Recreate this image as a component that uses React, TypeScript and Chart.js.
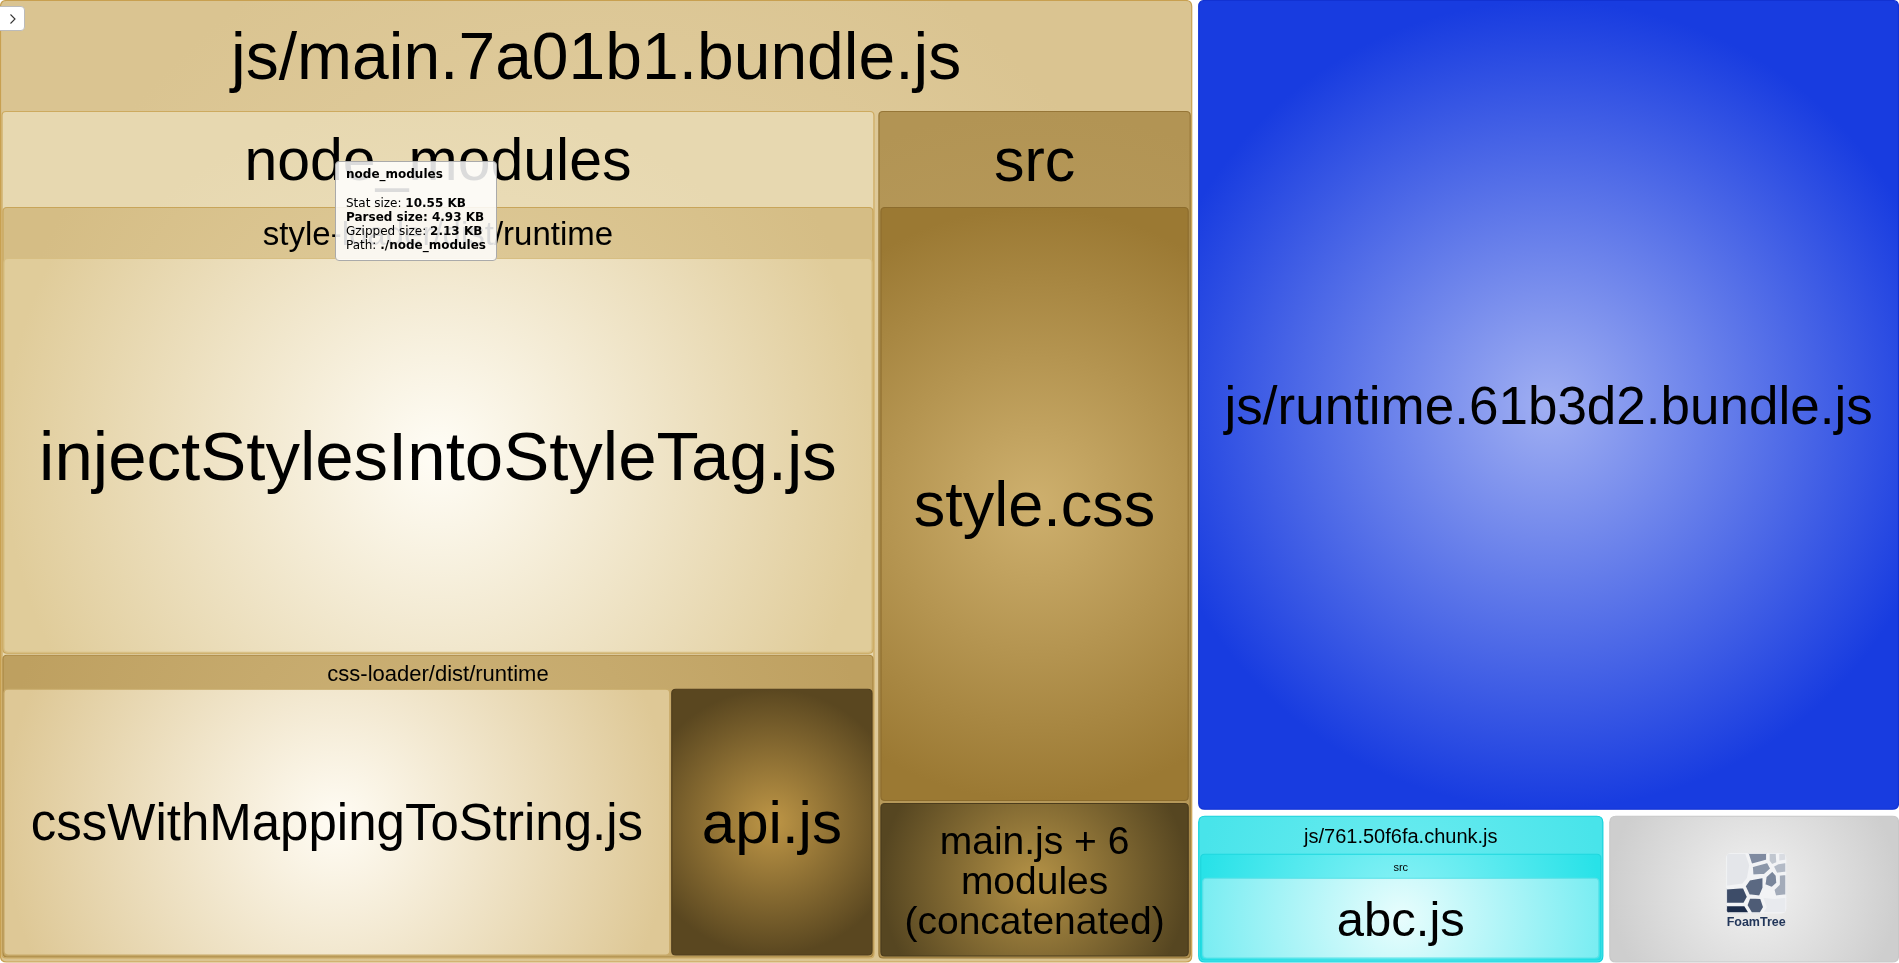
import React, { useEffect, useRef } from "react";
import { Chart, registerables } from "chart.js";
Chart.register(...registerables);

// ---------- data (parsed sizes in KB) ----------
const bundleNames = ["js/main.7a01b1.bundle.js", "js/runtime.61b3d2.bundle.js", "js/761.50f6fa.chunk.js"];
const mainGroupNames = ["node_modules", "src"];
const nodeModulesGroupNames = ["style-loader/dist/runtime", "css-loader/dist/runtime"];
const styleLoaderModules = ["injectStylesIntoStyleTag.js"];
const styleLoaderSizes = [2.94];
const cssLoaderModules = ["cssWithMappingToString.js", "api.js"];
const cssLoaderSizes = [1.53, 0.46];
const mainSrcModules = ["style.css", "main.js + 6 modules (concatenated)"];
const mainSrcSizes = [1.4, 0.36];
const runtimeSize = 3.33;
const chunkGroupNames = ["src"];
const chunkSrcModules = ["abc.js"];
const chunkSrcSizes = [0.35];
const brandingWeight = 0.25; // FoamTree logo cell

const W = 1899;
const H = 963;

type TNode = { id: string; label: string; weight: number; children?: TNode[] };
const sum = (a: number[]) => a.reduce((s, v) => s + v, 0);
const leaves = (prefix: string, names: string[], sizes: number[]): TNode[] =>
  names.map((n, i) => ({ id: prefix + i, label: n, weight: sizes[i] }));
const group = (id: string, label: string, children: TNode[]): TNode => ({
  id, label, children, weight: sum(children.map((c) => c.weight)),
});

const tree: TNode = group("root", "", [
  group("main", bundleNames[0], [
    group("nm", mainGroupNames[0], [
      group("sl", nodeModulesGroupNames[0], leaves("slm", styleLoaderModules, styleLoaderSizes)),
      group("cl", nodeModulesGroupNames[1], leaves("clm", cssLoaderModules, cssLoaderSizes)),
    ]),
    group("msrc", mainGroupNames[1], leaves("msm", mainSrcModules, mainSrcSizes)),
  ]),
  { id: "runtime", label: bundleNames[1], weight: runtimeSize },
  group("chunk", bundleNames[2], [group("csrc", chunkGroupNames[0], leaves("csm", chunkSrcModules, chunkSrcSizes))]),
  { id: "logo", label: "FoamTree", weight: brandingWeight },
]);

// ---------- layout + style config ----------
type Box = { header: number; padX: number; padB: number; gap: number; dirs: string[] };
const boxes: Record<string, Box> = {
  root: { header: 0, padX: 0, padB: 0, gap: 7, dirs: ["h", "v", "h"] },
  main: { header: 111, padX: 1.5, padB: 4, gap: 5, dirs: ["h"] },
  nm: { header: 96, padX: 1, padB: 1, gap: 2, dirs: ["v"] },
  sl: { header: 51, padX: 1, padB: 1, gap: 2, dirs: ["v"] },
  cl: { header: 34, padX: 1, padB: 2, gap: 2, dirs: ["h"] },
  msrc: { header: 96, padX: 2, padB: 2, gap: 3, dirs: ["v"] },
  chunk: { header: 38, padX: 2, padB: 2, gap: 2, dirs: ["v"] },
  csrc: { header: 24, padX: 2, padB: 2, gap: 2, dirs: ["v"] },
};

type Sty = { base: string; light: string; border: string; font: number };
const styles: Record<string, Sty> = {
  main: { base: "rgb(218,196,145)", light: "rgb(230,212,170)", border: "rgb(200,160,80)", font: 66 },
  nm: { base: "rgb(231,216,176)", light: "rgb(240,230,200)", border: "rgb(205,170,95)", font: 59 },
  sl: { base: "rgb(213,189,133)", light: "rgb(226,207,160)", border: "rgb(200,165,90)", font: 33 },
  slm0: { base: "rgb(224,204,154)", light: "rgb(255,253,246)", border: "rgb(215,190,130)", font: 69 },
  cl: { base: "rgb(190,160,96)", light: "rgb(206,180,122)", border: "rgb(170,135,65)", font: 22 },
  clm0: { base: "rgb(222,200,150)", light: "rgb(255,252,244)", border: "rgb(200,170,105)", font: 51 },
  clm1: { base: "rgb(90,71,32)", light: "rgb(190,150,70)", border: "rgb(80,62,28)", font: 60 },
  msrc: { base: "rgb(178,148,84)", light: "rgb(190,162,100)", border: "rgb(150,118,55)", font: 61 },
  msm0: { base: "rgb(155,121,51)", light: "rgb(206,176,110)", border: "rgb(140,108,45)", font: 63 },
  msm1: { base: "rgb(86,70,33)", light: "rgb(180,146,70)", border: "rgb(75,60,28)", font: 39 },
  runtime: { base: "rgb(24,60,224)", light: "rgb(160,175,242)", border: "rgb(18,50,210)", font: 53 },
  chunk: { base: "rgb(72,228,234)", light: "rgb(110,236,240)", border: "rgb(20,210,220)", font: 20 },
  csrc: { base: "rgb(40,226,232)", light: "rgb(140,242,246)", border: "rgb(30,215,222)", font: 11 },
  csm0: { base: "rgb(122,237,242)", light: "rgb(232,253,253)", border: "rgb(90,225,232)", font: 49 },
  logo: { base: "rgb(206,206,206)", light: "rgb(242,242,242)", border: "rgb(200,200,200)", font: 13 },
};

type R = { x: number; y: number; w: number; h: number };
type Cell = { node: TNode; r: R; depth: number };

function splitSeq(items: TNode[], r: R, dirs: string[], gap: number, out: [TNode, R][]) {
  if (items.length === 0) return;
  if (items.length === 1) { out.push([items[0], r]); return; }
  const total = sum(items.map((c) => c.weight));
  const f = items[0].weight / total;
  const d = dirs[0] || "h";
  if (d === "h") {
    const w0 = (r.w - gap) * f;
    out.push([items[0], { x: r.x, y: r.y, w: w0, h: r.h }]);
    splitSeq(items.slice(1), { x: r.x + w0 + gap, y: r.y, w: r.w - w0 - gap, h: r.h }, dirs.slice(1), gap, out);
  } else {
    const h0 = (r.h - gap) * f;
    out.push([items[0], { x: r.x, y: r.y, w: r.w, h: h0 }]);
    splitSeq(items.slice(1), { x: r.x, y: r.y + h0 + gap, w: r.w, h: r.h - h0 - gap }, dirs.slice(1), gap, out);
  }
}

function layout(node: TNode, r: R, depth: number, cells: Cell[]) {
  if (node.id !== "root") cells.push({ node, r, depth });
  if (!node.children) return;
  const b = boxes[node.id];
  const inner = { x: r.x + b.padX, y: r.y + b.header, w: r.w - 2 * b.padX, h: r.h - b.header - b.padB };
  const out: [TNode, R][] = [];
  splitSeq(node.children, inner, b.dirs, b.gap, out);
  out.forEach(([c, cr]) => layout(c, cr, depth + 1, cells));
}

const FONT = '"Liberation Sans", Arial, sans-serif';

function roundRect(ctx: CanvasRenderingContext2D, x: number, y: number, w: number, h: number, rad: number) {
  ctx.beginPath();
  ctx.moveTo(x + rad, y);
  ctx.lineTo(x + w - rad, y);
  ctx.quadraticCurveTo(x + w, y, x + w, y + rad);
  ctx.lineTo(x + w, y + h - rad);
  ctx.quadraticCurveTo(x + w, y + h, x + w - rad, y + h);
  ctx.lineTo(x + rad, y + h);
  ctx.quadraticCurveTo(x, y + h, x, y + h - rad);
  ctx.lineTo(x, y + rad);
  ctx.quadraticCurveTo(x, y, x + rad, y);
  ctx.closePath();
}

function wrap(ctx: CanvasRenderingContext2D, text: string, maxW: number): string[] {
  if (ctx.measureText(text).width <= maxW) return [text];
  const words = text.split(" ");
  const lines: string[] = [];
  let cur = "";
  words.forEach((w) => {
    const t = cur ? cur + " " + w : w;
    if (ctx.measureText(t).width > maxW && cur) { lines.push(cur); cur = w; } else cur = t;
  });
  if (cur) lines.push(cur);
  return lines;
}

// FoamTree branding glyph (decoration, in unit-square coordinates)
const logoCells: [string, number[][]][] = [
  ["#e4e6ea", [[0, 0], [0.33, 0], [0.4, 0.2], [0.36, 0.42], [0.28, 0.52], [0, 0.56]]],
  ["#7f8aa0", [[0.36, 0], [0.68, 0], [0.68, 0.12], [0.42, 0.19]]],
  ["#c0c6cf", [[0.71, 0], [0.84, 0], [0.85, 0.16], [0.76, 0.2], [0.71, 0.13]]],
  ["#d9dce2", [[0.87, 0], [1, 0], [1, 0.12], [0.87, 0.14]]],
  ["#8c97a9", [[0.43, 0.22], [0.69, 0.15], [0.75, 0.26], [0.64, 0.36], [0.44, 0.37]]],
  ["#b3bac6", [[0.78, 0.22], [0.87, 0.17], [1, 0.15], [1, 0.32], [0.84, 0.34]]],
  ["#7a869b", [[0.66, 0.39], [0.77, 0.29], [0.84, 0.37], [0.85, 0.5], [0.76, 0.58], [0.64, 0.53]]],
  ["#5b6982", [[0.31, 0.55], [0.39, 0.44], [0.62, 0.4], [0.62, 0.58], [0.56, 0.72], [0.38, 0.7]]],
  ["#a3abb9", [[0.88, 0.36], [1, 0.35], [1, 0.7], [0.82, 0.72], [0.79, 0.61], [0.88, 0.52]]],
  ["#3d4c68", [[0, 0.59], [0.29, 0.57], [0.36, 0.73], [0.3, 0.84], [0, 0.84]]],
  ["#4e5c76", [[0.39, 0.74], [0.58, 0.75], [0.63, 0.9], [0.57, 1], [0.42, 1], [0.34, 0.87]]],
  ["#1c2c4a", [[0, 0.87], [0.31, 0.87], [0.39, 1], [0, 1]]],
  ["#e8eaee", [[0.6, 0.73], [0.8, 0.75], [1, 0.73], [1, 1], [0.6, 1], [0.66, 0.9]]],
];

function drawLogo(ctx: CanvasRenderingContext2D, cx: number, cy: number) {
  const s = 60;
  const x0 = cx - s / 2 + 2;
  const y0 = cy - 36;
  ctx.save();
  roundRect(ctx, x0, y0, s, s, 5);
  ctx.fillStyle = "#f2f3f5";
  ctx.fill();
  ctx.clip();
  logoCells.forEach(([col, pts]) => {
    ctx.beginPath();
    pts.forEach(([px, py], i) => {
      const X = x0 + px * s, Y = y0 + py * s;
      if (i === 0) ctx.moveTo(X, Y); else ctx.lineTo(X, Y);
    });
    ctx.closePath();
    ctx.fillStyle = col;
    ctx.fill();
    ctx.lineWidth = 1.8;
    ctx.lineJoin = "round";
    ctx.strokeStyle = "#f2f3f5";
    ctx.stroke();
  });
  ctx.restore();
  ctx.fillStyle = "#22365a";
  ctx.font = `bold 12.5px ${FONT}`;
  ctx.textAlign = "center";
  ctx.textBaseline = "middle";
  ctx.fillText("FoamTree", x0 + s / 2, y0 + s + 9);
}

const treemapPlugin = {
  id: "treemapCells",
  afterDatasetsDraw(chart: any) {
    const { ctx, scales } = chart;
    const xs = scales.x, ys = scales.y;
    const cells: Cell[] = [];
    layout(tree, { x: 0.5, y: 0.5, w: xs.max - xs.min - 1, h: ys.max - ys.min - 1.5 }, 0, cells);
    ctx.save();
    cells.forEach(({ node, r, depth }) => {
      const st = styles[node.id];
      const x1 = xs.getPixelForValue(r.x), x2 = xs.getPixelForValue(r.x + r.w);
      const y1 = ys.getPixelForValue(r.y), y2 = ys.getPixelForValue(r.y + r.h);
      const w = x2 - x1, h = y2 - y1;
      const cx = x1 + w / 2, cy = y1 + h / 2;
      const R = 0.5 * Math.max(w, h);
      const g = ctx.createRadialGradient(cx, cy, 0, cx, cy, R);
      g.addColorStop(0, st.light);
      g.addColorStop(1, st.base);
      roundRect(ctx, x1, y1, w, h, depth <= 1 ? 6 : 4);
      ctx.fillStyle = g;
      ctx.fill();
      ctx.lineWidth = 1.2;
      ctx.strokeStyle = st.border;
      ctx.stroke();
      ctx.fillStyle = "#000";
      ctx.textAlign = "center";
      ctx.textBaseline = "middle";
      ctx.font = `${st.font}px ${FONT}`;
      const dy = st.font * 0.06;
      if (node.id === "logo") {
        drawLogo(ctx, cx, cy);
      } else if (node.children) {
        const b = boxes[node.id];
        ctx.fillText(node.label, cx, y1 + b.header / 2 + 1 + dy);
      } else {
        const lines = wrap(ctx, node.label, w - 20);
        const lh = st.font * 1.02;
        lines.forEach((ln, i) => ctx.fillText(ln, cx, cy + (i - (lines.length - 1) / 2) * lh + 1 + dy));
      }
    });
    ctx.restore();
  },
};

export default function App() {
  const ref = useRef<HTMLCanvasElement | null>(null);
  useEffect(() => {
    document.body.style.margin = "0";
    document.body.style.overflow = "hidden";
    const chart = new Chart(ref.current as HTMLCanvasElement, {
      type: "scatter",
      data: { datasets: [{ data: [], pointRadius: 0 }] },
      options: {
        animation: false,
        responsive: false,
        devicePixelRatio: 1,
        events: [],
        layout: { padding: 0 },
        plugins: { legend: { display: false }, tooltip: { enabled: false } },
        scales: {
          x: { type: "linear", min: 0, max: W, display: false },
          y: { type: "linear", min: 0, max: H, reverse: true, display: false },
        },
      },
      plugins: [treemapPlugin],
    } as any);
    return () => chart.destroy();
  }, []);

  const line: React.CSSProperties = { whiteSpace: "nowrap" };
  return (
    <div style={{ position: "fixed", left: 0, top: 0, width: W, height: H, overflow: "hidden", background: "#fff" }}>
      <canvas ref={ref} width={W} height={H} style={{ display: "block", width: W, height: H }} />
      <div
        style={{
          position: "absolute", left: -4, top: 6, width: 29, height: 25, boxSizing: "border-box",
          background: "#fff", border: "1px solid #bbb", borderRadius: 4,
          display: "flex", alignItems: "center", justifyContent: "center", paddingLeft: 4,
        }}
      >
        <svg width="8" height="12" viewBox="0 0 8 12">
          <polyline points="1.5,1.5 6,6 1.5,10.5" fill="none" stroke="#333" strokeWidth="1.1" />
        </svg>
      </div>
      <div
        style={{
          position: "absolute", left: 335, top: 161, padding: "5px 10px 7px 10px",
          background: "rgba(255,255,255,0.86)", border: "1px solid #aaa", borderRadius: 4,
          font: '12px "DejaVu Sans", Verdana, sans-serif', lineHeight: "14.3px", color: "#000",
        }}
      >
        <div style={{ ...line, fontWeight: "bold" }}>node_modules</div>
        <br />
        <div style={line}>Stat size: <b>10.55 KB</b></div>
        <div style={{ ...line, fontWeight: "bold" }}>Parsed size: 4.93 KB</div>
        <div style={line}>Gzipped size: <b>2.13 KB</b></div>
        <div style={line}>Path: <b>./node_modules</b></div>
      </div>
    </div>
  );
}
